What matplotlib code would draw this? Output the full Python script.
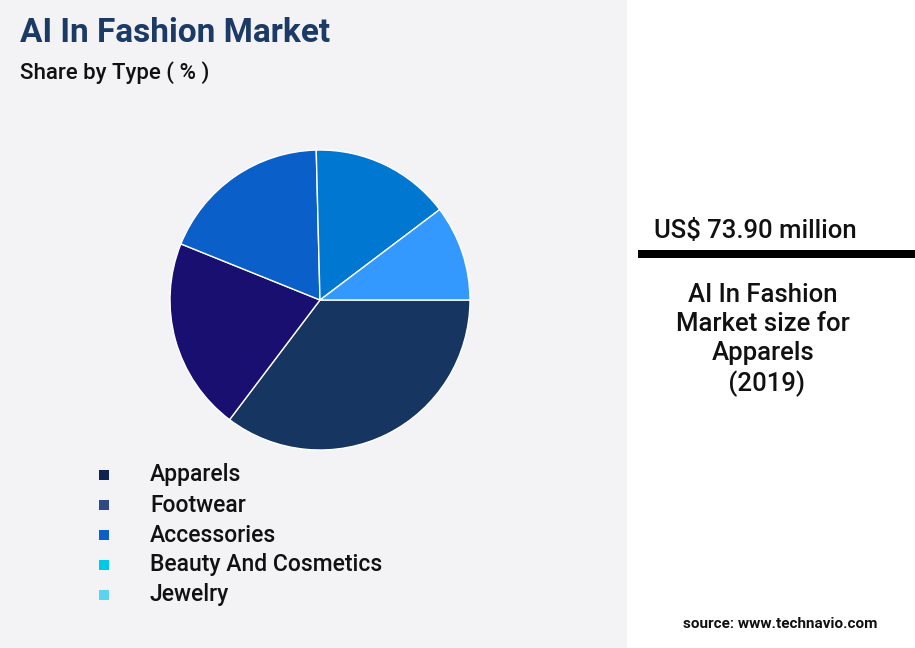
import matplotlib.pyplot as plt
from matplotlib.patches import Rectangle

plt.rcParams['font.family'] = ['Roboto', 'DejaVu Sans']

types = ['Apparels', 'Footwear', 'Accessories', 'Beauty And Cosmetics', 'Jewelry']
shares = [35.3, 20.8, 18.5, 15.1, 10.3]
pie_colors = ['#163561', '#180f70', '#0a5fc8', '#0077d0', '#3399ff']
legend_colors = ['#0f2350', '#2e4a86', '#0a5fc8', '#00c8e8', '#5ad2f0']

fig = plt.figure(figsize=(9.15, 6.48), dpi=100)
fig.patch.set_facecolor('#f3f3f6')

# right white panel
fig.patches.append(Rectangle((627 / 915, 0), 288 / 915, 1, transform=fig.transFigure,
                             facecolor='white', edgecolor='none'))

ax = fig.add_axes([170 / 915, 1 - 450 / 648, 300 / 915, 300 / 648])
ax.pie(shares, colors=pie_colors, startangle=0, counterclock=False, radius=1,
       wedgeprops=dict(edgecolor='white', linewidth=1))
ax.set_xlim(-1, 1)
ax.set_ylim(-1, 1)
ax.set_aspect('equal')
ax.axis('off')

fig.text(20 / 915, 1 - 33 / 648, 'AI In Fashion Market', fontsize=24, fontweight='bold',
         color='#1c3a66', va='center')
fig.text(20 / 915, 1 - 73 / 648, 'Share by Type ( % )', fontsize=16, fontweight='medium',
         color='#111111', va='center')

for i, (t, c) in enumerate(zip(types, legend_colors)):
    y = 1 - (475 + 30 * i) / 648
    fig.patches.append(Rectangle((99 / 915, y - 5 / 648), 10 / 915, 10 / 648,
                                 transform=fig.transFigure, facecolor=c, edgecolor='none'))
    fig.text(150 / 915, y, t, fontsize=16.5, fontweight='medium', color='#111111', va='center')

fig.text(755 / 915, 1 - 231 / 648, 'US$ 73.90 million', fontsize=18.5, fontweight='medium',
         color='#111111', ha='center', va='center')
fig.patches.append(Rectangle((638 / 915, 1 - 258 / 648), 277 / 915, 8 / 648,
                             transform=fig.transFigure, facecolor='black', edgecolor='none'))
fig.text(763 / 915, 1 - 340 / 648, 'AI In Fashion\nMarket size for\nApparels\n (2019)',
         fontsize=18.5, fontweight='medium', color='#111111', ha='center', va='center',
         linespacing=1.25)
fig.text(780 / 915, 1 - 624 / 648, 'source: www.technavio.com', fontsize=11,
         fontweight='bold', color='#111111', ha='center', va='center')

fig.savefig('out.png', dpi=100, facecolor=fig.get_facecolor())
